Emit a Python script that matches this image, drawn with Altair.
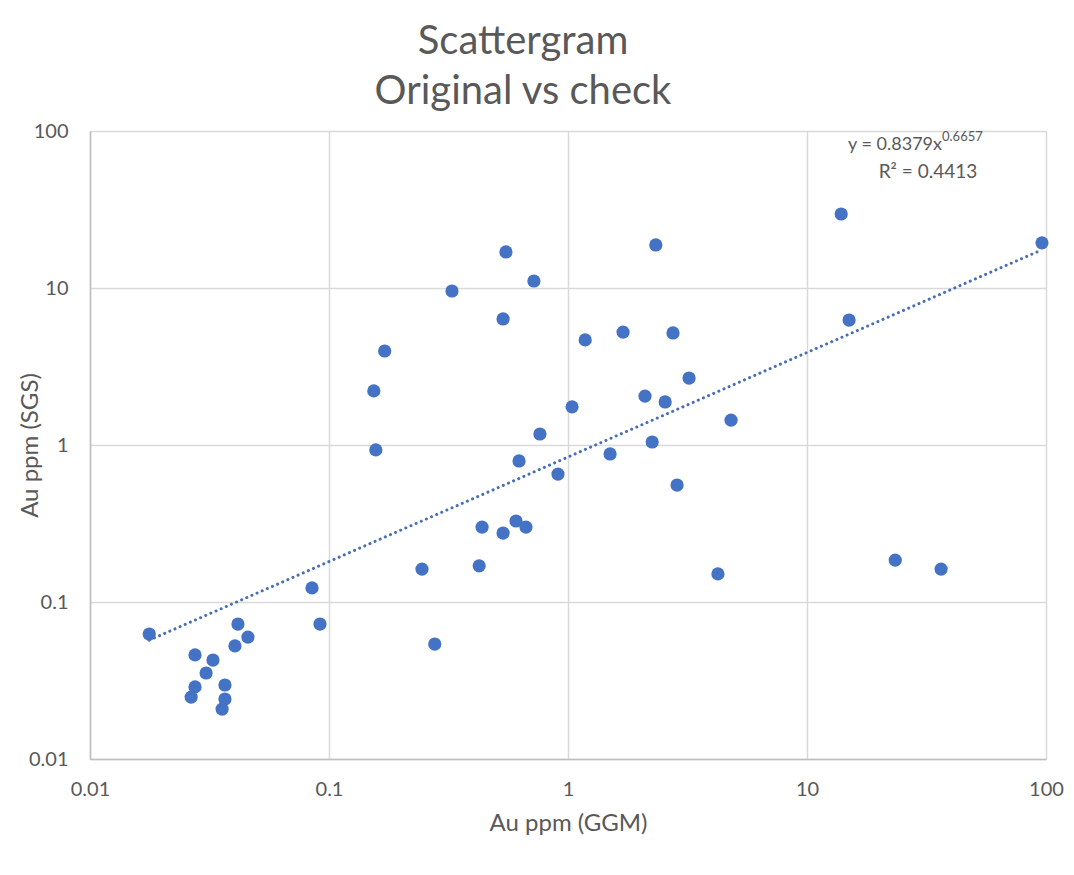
import altair as alt
import pandas as pd

# Au ppm by GGM (original) and by SGS (check)
ggm = [0.0177, 0.0275, 0.0327, 0.0306, 0.0275, 0.0265, 0.0367, 0.0367, 0.0357,
       0.0416, 0.0458, 0.0404, 0.0849, 0.0917,
       0.154, 0.171, 0.157, 0.245, 0.277, 0.327, 0.550, 0.720, 0.535,
       0.425, 0.437, 0.535, 0.606, 0.667, 0.624, 0.908, 0.763,
       1.04, 1.18, 1.70, 2.75, 3.21, 2.10, 2.55, 4.81, 2.25, 1.50, 2.86,
       4.24, 2.33, 13.9, 96.2, 15.0, 23.4, 36.4]
sgs = [0.0625, 0.046, 0.0427, 0.0353, 0.0288, 0.0248, 0.0296, 0.0241, 0.0208,
       0.0724, 0.0598, 0.0525, 0.123, 0.0724,
       2.21, 3.97, 0.93, 0.162, 0.054, 9.57, 16.96, 11.08, 6.35,
       0.170, 0.300, 0.275, 0.328, 0.300, 0.791, 0.653, 1.175,
       1.75, 4.67, 5.24, 5.17, 2.67, 2.05, 1.88, 1.44, 1.045, 0.877, 0.556,
       0.151, 18.8, 29.6, 19.4, 6.25, 0.185, 0.162]

# power trendline shown on the chart: y = 0.8379 x^0.6657
coef_a = 0.8379
coef_b = 0.6657
trend_x = [min(ggm), max(ggm)]
trend_y = [coef_a * v ** coef_b for v in trend_x]

tick_values = [0.01, 0.1, 1, 10, 100]

df = pd.DataFrame({"GGM": ggm, "SGS": sgs})
trend_df = pd.DataFrame({"GGM": trend_x, "SGS": trend_y})

FONT = "Lato"
GREY = "#595959"
GRID = "#d9d9d9"
BLUE = "#4472C4"

W, H = 956, 628

xscale = alt.Scale(type="log", domain=[0.01, 100], nice=False)
yscale = alt.Scale(type="log", domain=[0.01, 100], nice=False)

xaxis = alt.Axis(
    title="Au ppm (GGM)", values=tick_values, format="~g",
    grid=True, gridColor=GRID, gridWidth=1.5,
    domainColor="#bfbfbf", domainWidth=1.5,
    ticks=False, tickSize=0,
    labelFont=FONT, labelFontSize=20, labelColor=GREY, labelPadding=20,
    labelFlush=False,
    titleFont=FONT, titleFontSize=24, titleColor=GREY, titleFontWeight="normal",
    titleBaseline="alphabetic", titleY=71,
)
yaxis = alt.Axis(
    title="Au ppm (SGS)", values=tick_values, format="~g",
    grid=True, gridColor=GRID, gridWidth=1.5,
    domainColor="#bfbfbf", domainWidth=1.5,
    ticks=False, tickSize=0,
    labelFont=FONT, labelFontSize=20, labelColor=GREY, labelPadding=22,
    labelFlush=False,
    titleFont=FONT, titleFontSize=24, titleColor=GREY, titleFontWeight="normal",
    titleBaseline="alphabetic", titleX=-53, titleY=H / 2,
)

points = alt.Chart(df).mark_circle(size=175, color=BLUE, opacity=1).encode(
    x=alt.X("GGM:Q", scale=xscale, axis=xaxis),
    y=alt.Y("SGS:Q", scale=yscale, axis=yaxis),
)

trend = alt.Chart(trend_df).mark_line(
    color="#4a6fb5", strokeWidth=3, strokeDash=[0.1, 5.5], strokeCap="round"
).encode(
    x=alt.X("GGM:Q", scale=xscale),
    y=alt.Y("SGS:Q", scale=yscale),
)

eq_main = alt.Chart(pd.DataFrame({"t": ["y = 0.8379x"]})).mark_text(
    font=FONT, fontSize=18, color=GREY, align="right", baseline="alphabetic"
).encode(text="t:N", x=alt.value(852), y=alt.value(19))

eq_sup = alt.Chart(pd.DataFrame({"t": ["0.6657"]})).mark_text(
    font=FONT, fontSize=13, color=GREY, align="left", baseline="alphabetic"
).encode(text="t:N", x=alt.value(852), y=alt.value(10))

r2 = alt.Chart(pd.DataFrame({"t": ["R\u00b2 = 0.4413"]})).mark_text(
    font=FONT, fontSize=19, color=GREY, align="center", baseline="alphabetic"
).encode(text="t:N", x=alt.value(838), y=alt.value(47))

chart = alt.layer(trend, points, eq_main, eq_sup, r2).properties(
    width=W, height=H,
    title=alt.TitleParams(
        text=["Scattergram", "Original vs check"],
        font=FONT, fontSize=40, fontWeight="normal", color=GREY,
        lineHeight=50, anchor="middle", frame="group", dx=-45, offset=9,
    ),
    autosize=alt.AutoSizeParams(type="none"),
    padding={"left": 82, "top": 123, "right": 20, "bottom": 80},
).configure_view(stroke=None).configure(background="white")

chart.save("out.html", embed_options={"renderer": "svg", "actions": False})
